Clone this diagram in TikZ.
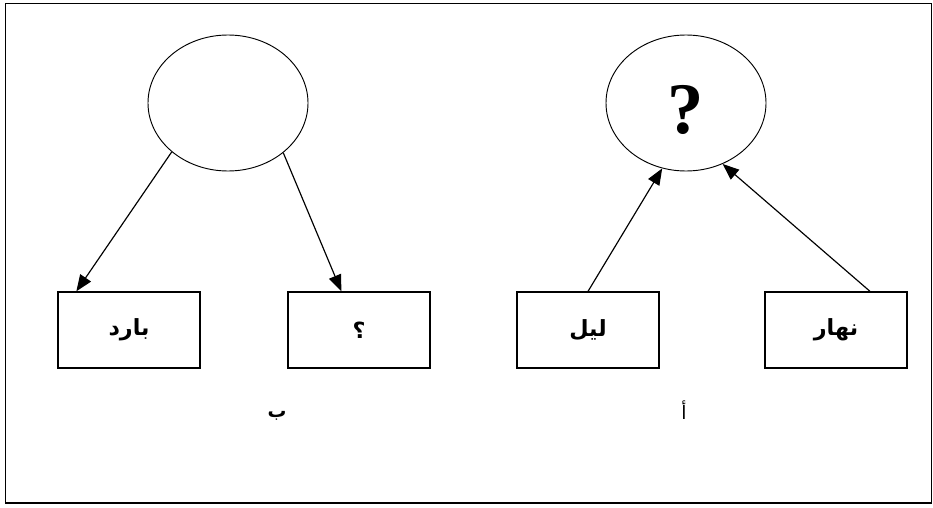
\documentclass[tikz,border=0pt]{standalone}
\usepackage{fontspec}
\setmainfont{Liberation Serif}
\newfontfamily\arabicfont[Script=Arabic]{DejaVu Sans}
\TeXXeTstate=1
\usetikzlibrary{shapes.geometric,arrows.meta,calc}
\begin{document}
\begin{tikzpicture}[x=0.03cm,y=-0.03cm,
  oval/.style={draw, line width=0.8pt, ellipse, minimum width=4.8cm, minimum height=4.08cm, inner sep=0pt},
  box/.style={draw, line width=1.1pt, rectangle, minimum width=4.26cm, minimum height=2.28cm, inner sep=0pt,
    font=\arabicfont\bfseries\fontsize{19}{22}\selectfont},
  arr/.style={line width=1pt, -{Triangle[length=14pt,width=11pt]}},
  lbl/.style={font=\arabicfont\fontsize{16}{18}\selectfont}]
  \useasboundingbox (0,0) rectangle (933,507);
  % outer frame
  \draw[line width=1.6pt] (5.5,3.5) rectangle (931.5,503);
  % left group
  \node[oval] (cls) at (228,103) {};
  \node[box] (cold) at (129,330) {\beginR بارد\endR};
  \node[box] (unk) at (359,330) {\beginR ؟\endR};
  \draw[arr] (cls.221) -- ($(cold.north west)+(19,0)$);
  \draw[arr] (cls.318) -- ($(unk.north west)+(54,0)$);
  % right group
  \node[oval] (que) at (686,103) {};
  \node[font=\bfseries\fontsize{62}{70}\selectfont] (qmark) at (686,110) {?};
  \node[box] (night) at (588,330) {\beginR ليل\endR};
  \node[box] (day) at (836,330) {\beginR نهار\endR};
  \draw[arr] (night.north) -- (que.250);
  \draw[arr] ($(day.north)+(34,0)$) -- (que.301);
  % captions
  \node[lbl, font=\arabicfont\bfseries\fontsize{16}{18}\selectfont] (capb) at (277,416) {\beginR ب\endR};
  \node[lbl] (capa) at (684,410) {\beginR أ\endR};
\end{tikzpicture}
\end{document}
